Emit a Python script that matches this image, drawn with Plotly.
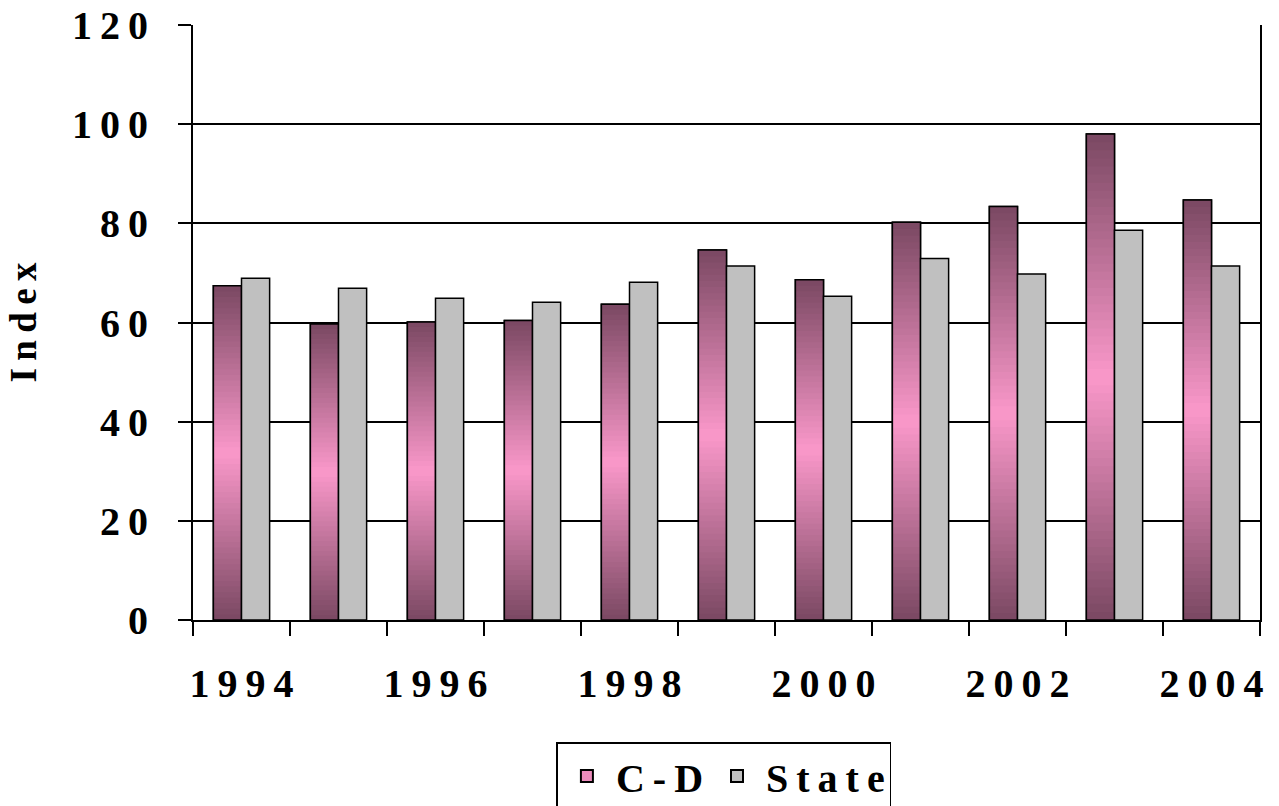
import plotly.graph_objects as go
import numpy as np

years = ["1994", "1995", "1996", "1997", "1998", "1999", "2000", "2001", "2002", "2003", "2004"]
cd_values = [67.4, 59.7, 60.1, 60.4, 63.7, 74.6, 68.6, 80.2, 83.4, 98.0, 84.7]
state_values = [68.9, 66.9, 64.9, 64.1, 68.1, 71.4, 65.3, 72.9, 69.8, 78.6, 71.4]
tick_labels = ["1994", "", "1996", "", "1998", "", "2000", "", "2002", "", "2004"]
y_ticks = [0, 20, 40, 60, 80, 100, 120]

TS = "\u2009"  # thin space for letter spacing


def spaced(s):
    return TS.join(list(s))


DARK = np.array([122, 72, 98])
PINK = np.array([250, 152, 202])
GRAY = "rgb(192,192,192)"
N = 60

fig = go.Figure()

# Legend / base trace for C-D
fig.add_trace(go.Bar(
    x=years, y=cd_values, name=spaced("C-D"), offsetgroup="cd",
    marker=dict(color="rgb(236,140,188)", line=dict(color="black", width=1.5)),
    showlegend=True, hoverinfo="skip",
))

# Gradient segments (dark at top & bottom, pink in the middle)
for k in range(N):
    t = (k + 0.5) / N
    w = 1 - abs(2 * t - 1)
    c = DARK + (PINK - DARK) * w
    col = "rgb(%d,%d,%d)" % tuple(int(round(v)) for v in c)
    bases = [v * k / N for v in cd_values]
    heights = [v - b for v, b in zip(cd_values, bases)]
    fig.add_trace(go.Bar(
        x=years, y=heights, base=bases, offsetgroup="cd",
        marker=dict(color=col, line=dict(width=0)),
        showlegend=False, hoverinfo="skip",
    ))

# Outline on top of gradient
fig.add_trace(go.Bar(
    x=years, y=cd_values, offsetgroup="cd",
    marker=dict(color="rgba(0,0,0,0)", line=dict(color="black", width=1.5)),
    showlegend=False, hoverinfo="skip",
))

fig.add_trace(go.Bar(
    x=years, y=state_values, name=spaced("State"), offsetgroup="st",
    marker=dict(color=GRAY, line=dict(color="black", width=1.5)),
))

FONT = "Liberation Serif, Times New Roman, serif"

fig.update_layout(
    width=1279, height=806,
    margin=dict(l=193, r=19, t=25, b=186),
    paper_bgcolor="white", plot_bgcolor="white",
    barmode="group", bargap=0.42, bargroupgap=0,
    font=dict(family=FONT, color="black", size=38, weight="bold"),
    legend=dict(
        orientation="h", xref="container", yref="container",
        x=0.566, xanchor="center", y=1 - 742 / 806, yanchor="top",
        bordercolor="black", borderwidth=1.5, bgcolor="white",
        font=dict(family=FONT, size=40, color="black", weight="bold"),
        itemsizing="constant", traceorder="normal", itemwidth=48,
    ),
    xaxis=dict(
        type="category", tickmode="array", tickvals=years,
        ticktext=[spaced(t) for t in tick_labels], tickangle=0, automargin=False,
        tickson="boundaries", ticks="outside", ticklen=14, tickwidth=1.5, tickcolor="black",
        showline=True, linecolor="black", linewidth=2,
        showgrid=False, ticklabelstandoff=27,
        tickfont=dict(family=FONT, size=40, color="black", weight="bold"),
    ),
    yaxis=dict(
        range=[0, 120], tickmode="array", tickvals=y_ticks,
        ticktext=[spaced(str(v)) for v in y_ticks], automargin=False,
        ticks="outside", ticklen=13, tickwidth=1.5, tickcolor="black",
        showline=True, linecolor="black", linewidth=2, mirror=True,
        showgrid=True, gridcolor="black", gridwidth=1.5, zeroline=False,
        ticklabelstandoff=22,
        tickfont=dict(family=FONT, size=40, color="black", weight="bold"),
        title=dict(text=spaced("Index"), standoff=24,
                   font=dict(family=FONT, size=37, color="black", weight="bold")),
    ),
)

fig.write_html("out.html", config={"displayModeBar": False},
               post_script="document.body.style.margin='0';")
